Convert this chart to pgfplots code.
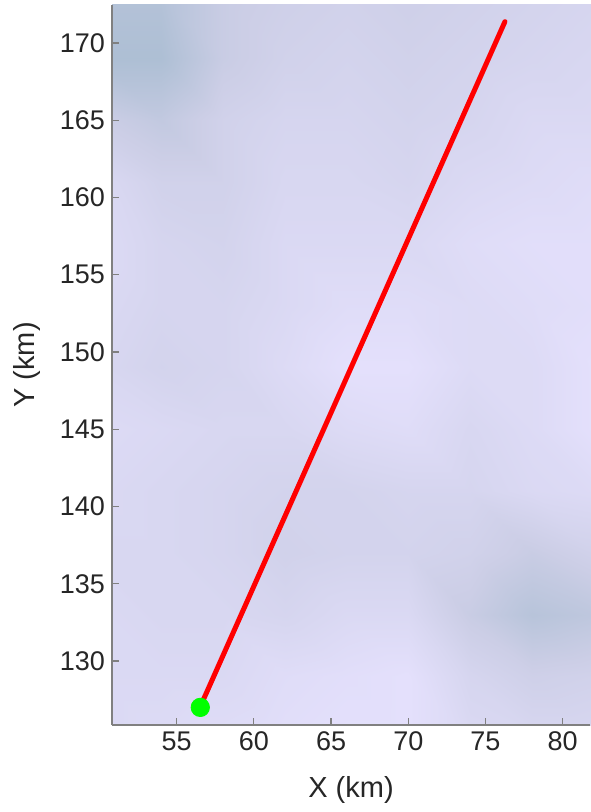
\documentclass[border=0pt]{standalone}
\usepackage{fontspec}
\setmainfont{Liberation Sans}
\usepackage{pgfplots}
\pgfplotsset{compat=1.18}
\usepackage{pgfplotstable}

\definecolor{axisgray}{RGB}{128,128,128}
\definecolor{textgray}{RGB}{38,38,38}

% background shade, 0 = light lavender, 1 = grey-blue
\pgfplotstableread{
x y v
50 125 0.20
54 125 0.15
58 125 0.10
62 125 0.05
66 125 0.00
70 125 0.00
74 125 0.20
78 125 0.25
82 125 0.25
50 129 0.20
54 129 0.20
58 129 0.20
62 129 0.10
66 129 0.05
70 129 0.00
74 129 0.30
78 129 0.45
82 129 0.40
50 133 0.20
54 133 0.25
58 133 0.25
62 133 0.30
66 133 0.20
70 133 0.20
74 133 0.55
78 133 0.80
82 133 0.70
50 137 0.25
54 137 0.25
58 137 0.30
62 137 0.40
66 137 0.35
70 137 0.35
74 137 0.40
78 137 0.55
82 137 0.40
50 141 0.20
54 141 0.25
58 141 0.30
62 141 0.35
66 141 0.35
70 141 0.30
74 141 0.30
78 141 0.20
82 141 0.15
50 145 0.15
54 145 0.20
58 145 0.25
62 145 0.25
66 145 0.15
70 145 0.10
74 145 0.25
78 145 0.15
82 145 0.00
50 149 0.25
54 149 0.35
58 149 0.30
62 149 0.15
66 149 0.00
70 149 0.00
74 149 0.15
78 149 0.15
82 149 0.00
50 153 0.20
54 153 0.30
58 153 0.30
62 153 0.20
66 153 0.10
70 153 0.10
74 153 0.15
78 153 0.10
82 153 0.05
50 157 0.15
54 157 0.30
58 157 0.35
62 157 0.20
66 157 0.20
70 157 0.20
74 157 0.10
78 157 0.05
82 157 0.05
50 161 0.20
54 161 0.40
58 161 0.40
62 161 0.25
66 161 0.25
70 161 0.30
74 161 0.20
78 161 0.15
82 161 0.10
50 165 0.50
54 165 0.65
58 165 0.40
62 165 0.30
66 165 0.30
70 165 0.35
74 165 0.30
78 165 0.20
82 165 0.20
50 169 0.95
54 169 0.95
58 169 0.55
62 169 0.40
66 169 0.35
70 169 0.40
74 169 0.35
78 169 0.30
82 169 0.25
50 173 0.85
54 173 0.85
58 173 0.55
62 173 0.45
66 173 0.40
70 173 0.45
74 173 0.40
78 173 0.35
82 173 0.30
}\bgmap

\begin{document}
\begin{tikzpicture}
\begin{axis}[
    scale only axis,
    width=239pt, height=360pt,
    xmin=50.81, xmax=81.77,
    ymin=125.86, ymax=172.46,
    axis on top,
    axis lines=left,
    axis line style={-, axisgray, line width=0.6pt},
    tick align=inside,
    major tick length=3.5pt,
    tick style={axisgray, line width=0.6pt},
    xtick={55,60,65,70,75,80},
    ytick={130,135,140,145,150,155,160,165,170},
    /pgf/number format/assume math mode=true,
    ticklabel style={font=\fontsize{13.5}{16}\selectfont, text=textgray},
    label style={font=\fontsize{14.5}{17}\selectfont, text=textgray},
    xlabel={X (km)},
    ylabel={Y (km)},
    xlabel style={yshift=-6pt},
    ylabel style={yshift=3pt},
    colormap={bg}{rgb255(0)=(228,224,252); rgb255(0.5)=(204,206,230); rgb255(1)=(170,189,210)},
    point meta min=0, point meta max=1,
]
\coordinate (sw) at (rel axis cs:0,0);
\addplot[surf, shader=interp, mesh/cols=9, mesh/rows=13, point meta=explicit]
    table[x=x, y=y, meta=v] {\bgmap};
\addplot[red, line width=2.5pt, line cap=round, no marks]
    coordinates {(56.72,127.48) (76.26,171.38)};
\addplot[only marks, mark=*, mark size=4.6pt, color={rgb,255:red,0;green,255;blue,0}]
    coordinates {(56.53,127.0)};
\end{axis}
\pgfresetboundingbox
\path[use as bounding box] ([shift={(-56pt,-43.5pt)}]sw) rectangle ([shift={(239pt,362.5pt)}]sw);
\end{tikzpicture}
\end{document}
